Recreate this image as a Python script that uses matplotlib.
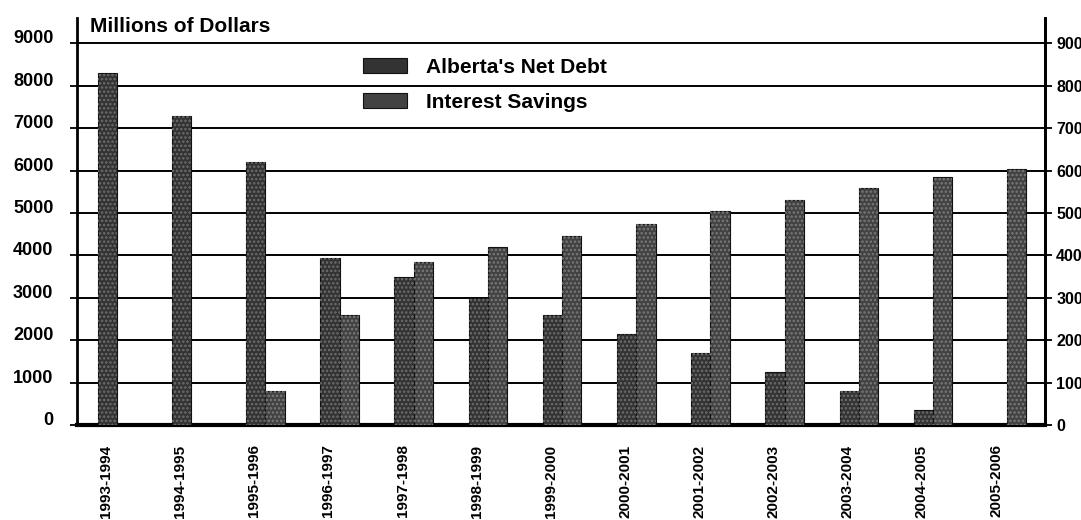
import matplotlib

matplotlib.use("Agg")
import matplotlib.pyplot as plt
import numpy as np

# Data ------------------------------------------------------------------------------- #

years = [
    "1993-1994", "1994-1995", "1995-1996", "1996-1997", "1997-1998", "1998-1999",
    "1999-2000", "2000-2001", "2001-2002", "2002-2003", "2003-2004", "2004-2005",
    "2005-2006",
]
net_debt = [8300, 7300, 6200, 3950, 3500, 3000, 2600, 2150, 1700, 1250, 800, 350, 0]
interest_savings = [0, 0, 800, 2600, 3850, 4200, 4450, 4750, 5050, 5300, 5600, 5850, 6050]
left_ticks = [0, 1000, 2000, 3000, 4000, 5000, 6000, 7000, 8000, 9000]
right_ticks = [0, 100, 200, 300, 400, 500, 600, 700, 800, 900]

plt.rcParams["font.family"] = ["Liberation Sans", "DejaVu Sans"]
plt.rcParams["hatch.linewidth"] = 1.2

# Figure ----------------------------------------------------------------------------- #

W, H = 1081, 520
fig = plt.figure(figsize=(W / 100, H / 100), dpi=100)
ax = fig.add_axes([77 / W, 1 - 425 / H, (1045 - 77) / W, (425 - 18) / H])

idx = np.arange(len(years))
w = 0.26
ax.bar(idx - w / 2, net_debt, w, color="#333333", edgecolor="#111111", lw=0.8,
       label="Alberta's Net Debt", zorder=3)
ax.bar(idx + w / 2, interest_savings, w, color="#424242", edgecolor="#111111", lw=0.8,
       label="Interest Savings", zorder=3)
# speckled texture of the scanned bars
ax.bar(idx - w / 2, net_debt, w, facecolor="none", edgecolor="#6e6e6e", lw=0,
       hatch="....", zorder=4)
ax.bar(idx + w / 2, interest_savings, w, facecolor="none", edgecolor="#7a7a7a", lw=0,
       hatch="....", zorder=4)

ax.set_xlim(-0.54, 12.51)
ax.set_ylim(0, 9600)
ax.set_axisbelow(True)
ax.yaxis.grid(True, color="black", lw=1.4)

ax.set_yticks(left_ticks, [str(v) for v in left_ticks])
ax.tick_params(axis="y", direction="out", length=5, width=1.3, pad=12, labelsize=13)
for t in ax.get_yticklabels():
    t.set_fontweight("bold")
    t.set_verticalalignment("baseline")

ax.set_xticks(idx - 0.15, years, rotation=90)
ax.tick_params(axis="x", length=0, pad=14, labelsize=11)
for t in ax.get_xticklabels():
    t.set_fontweight("bold")

ax.spines["top"].set_visible(False)
ax.spines["left"].set_linewidth(2)
ax.spines["right"].set_linewidth(2)
ax.spines["bottom"].set_linewidth(3)

ax2 = ax.twinx()
ax2.set_ylim(0, 960)
ax2.set_yticks(right_ticks, [str(v) for v in right_ticks])
ax2.tick_params(axis="y", direction="out", length=5, width=1.3, pad=3, labelsize=11.5)
for t in ax2.get_yticklabels():
    t.set_fontweight("bold")
for s in ["top", "left", "bottom"]:
    ax2.spines[s].set_visible(False)
ax2.spines["right"].set_linewidth(2)

fig.text(90 / W, 1 - 32 / H, "Millions of Dollars", fontsize=15, fontweight="bold",
         va="baseline", ha="left")

ax.legend(loc="upper left", bbox_to_anchor=(363 / W, 1 - 58 / H),
          bbox_transform=fig.transFigure, frameon=False, borderpad=0,
          borderaxespad=0, handlelength=2.1, handleheight=0.7, handletextpad=0.9,
          labelspacing=0.75, prop={"size": 15, "weight": "bold"})

fig.savefig("out.png", dpi=100)
